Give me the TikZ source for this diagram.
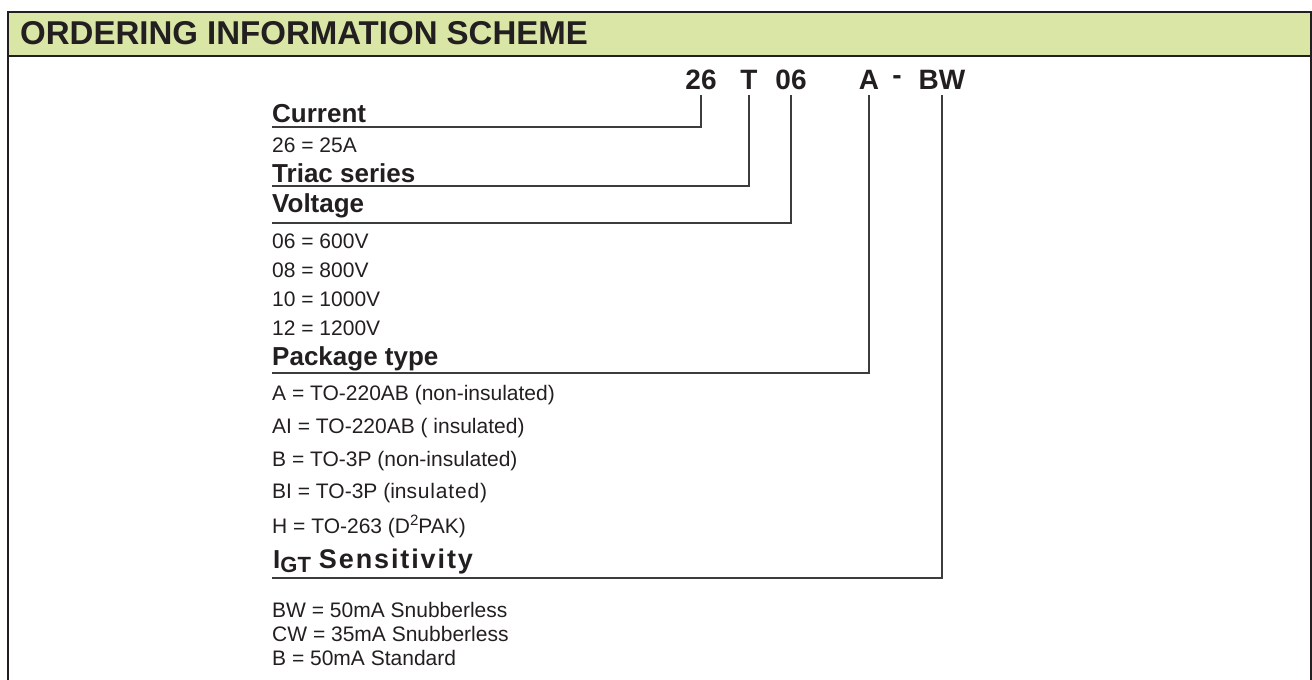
\documentclass[tikz,border=0pt]{standalone}
\usepackage{fontspec}
\setmainfont{Liberation Sans}
\definecolor{hdr}{RGB}{217,230,166}
\definecolor{txt}{RGB}{35,31,32}
\definecolor{ln}{RGB}{60,60,60}
\tikzset{
  hd/.style={font=\fontsize{26}{26}\selectfont\bfseries, inner sep=0pt, anchor=base west, text=txt},
  it/.style={font=\fontsize{21}{21}\selectfont, inner sep=0pt, anchor=base west, text=txt},
  code/.style={font=\fontsize{28}{28}\selectfont\bfseries, inner sep=0pt, anchor=base, text=txt},
  lead/.style={draw=ln, line width=1.5pt},
  frame/.style={draw=txt, line width=2pt},
}
\begin{document}
\begin{tikzpicture}[x=1pt,y=-1pt]
\useasboundingbox (0,0) rectangle (1312,680);
% frame and header
\fill[hdr] (8,12) rectangle (1311,56);
\draw[frame] (8,680) -- (8,12) -- (1311,12) -- (1311,680);
\draw[frame] (8,56) -- (1311,56);
\node[font=\fontsize{33}{33}\selectfont\bfseries, inner sep=0pt, anchor=base west, text=txt] (title) at (20,44.5) {ORDERING INFORMATION SCHEME};
% code
\node[code] (c26) at (701,89) {26};
\node[code] (cT) at (749,89) {T};
\node[code] (c06) at (791,89) {06};
\node[code] (cA) at (869,89) {A};
\node[code] (cdash) at (897,84) {-};
\node[code] (cBW) at (942,89) {BW};
% left ends of leader lines
\coordinate (l1) at (272,127);
\coordinate (l2) at (272,186);
\coordinate (l3) at (272,223);
\coordinate (l4) at (272,373);
\coordinate (l5) at (272,578);
\draw[lead] ([yshift=-6pt]c26.south) |- (l1);
\draw[lead] ([yshift=-6pt]cT.south) |- (l2);
\draw[lead] ([yshift=-6pt]c06.south) |- (l3);
\draw[lead] ([yshift=-6pt]cA.south) |- (l4);
\draw[lead] ([yshift=-6pt]cBW.south) |- (l5);
% Current
\node[hd] (h1) at (272,122) {Current};
\node[it] (t11) at (272,152) {26 = 25A};
% Triac series
\node[hd] (h2) at (272,182) {Triac series};
% Voltage
\node[hd] (h3) at (272,212) {Voltage};
\node[it] (t31) at (272,248) {06 = 600V};
\node[it] (t32) at (272,277) {08 = 800V};
\node[it] (t33) at (272,306) {10 = 1000V};
\node[it] (t34) at (272,335) {12 = 1200V};
% Package type
\node[hd] (h4) at (272,365) {Package type};
\node[it] (t41) at (272,400) {A = TO-220AB (non-insulated)};
\node[it] (t42) at (272,433) {AI = TO-220AB ( insulated)};
\node[it] (t43) at (272,466) {B = TO-3P (non-insulated)};
\node[it] (t44) at (272,498) {BI = TO-3P (in\addfontfeature{LetterSpace=4}sulated)};
\node[it] (t45) at (272,533) {H = TO-263 (D\raisebox{7.5pt}{\fontsize{15}{15}\selectfont 2}PAK)};
% IGT Sensitivity
\node[hd] (h5) at (273,568) {I\raisebox{-4pt}{\fontsize{22}{22}\selectfont GT}\hspace{8pt}{\fontsize{27}{27}\selectfont\addfontfeature{LetterSpace=7}Sensitivity}};
\node[it] (t51) at (272,617) {BW = 50mA Snubberless};
\node[it] (t52) at (272,641) {CW = 35mA Snubberless};
\node[it] (t53) at (272,665) {B = 50mA Standard};
\end{tikzpicture}
\end{document}
